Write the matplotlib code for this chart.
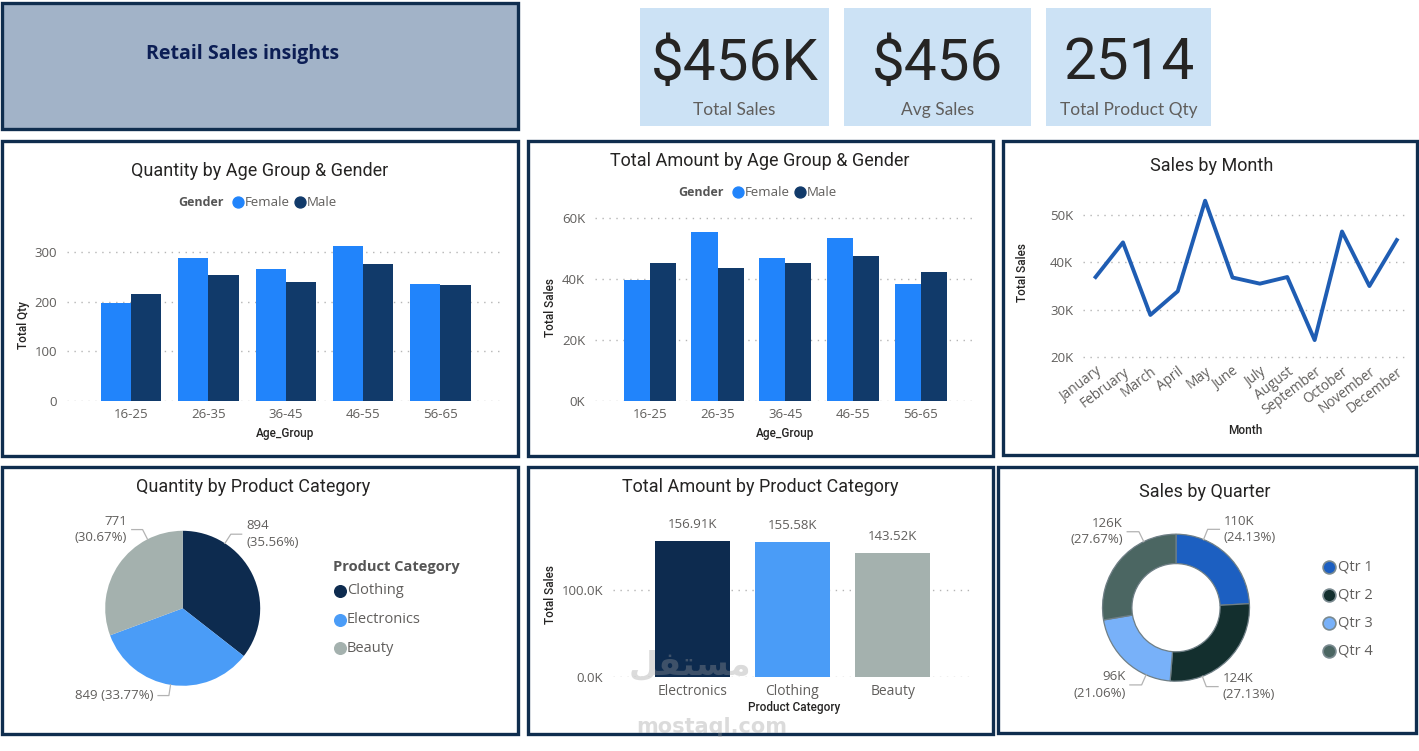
import numpy as np
import matplotlib
matplotlib.use("Agg")
import matplotlib.pyplot as plt
from matplotlib.patches import Rectangle
from matplotlib.ticker import FuncFormatter

plt.rcParams['font.family'] = ['Open Sans', 'DejaVu Sans']

# ---- data ----
kpi_values = ['$456K', '$456', '2514']
kpi_labels = ['Total Sales', 'Avg Sales', 'Total Product Qty']

age_groups = ['16-25', '26-35', '36-45', '46-55', '56-65']
genders = ['Female', 'Male']
qty_female = [197, 287, 266, 312, 235]
qty_male = [215, 253, 240, 275, 234]
amount_female = [39500, 55200, 46800, 53400, 38200]
amount_male = [45200, 43400, 45300, 47500, 42200]

months = ['January', 'February', 'March', 'April', 'May', 'June', 'July',
          'August', 'September', 'October', 'November', 'December']
monthly_sales = [36900, 44200, 28900, 33900, 53000, 36800, 35500, 36900,
                 23600, 46500, 35000, 44700]

pie_categories = ['Clothing', 'Electronics', 'Beauty']
pie_qty = [894, 849, 771]

bar_categories = ['Electronics', 'Clothing', 'Beauty']
bar_amount = [156910, 155580, 143520]

quarters = ['Qtr 1', 'Qtr 2', 'Qtr 3', 'Qtr 4']
quarter_sales = [110030, 123710, 96030, 126170]

# ---- colours / layout ----
W, H = 1419, 751
NAVY = '#0f2d4e'
FEMALE_C = '#2184fb'
MALE_C = '#113a6a'
pie_colors = ['#0d2b4f', '#4a9cf7', '#a4b1ae']
bar_colors = ['#0d2b4f', '#4a9cf7', '#a4b1ae']
quarter_colors = ['#1c5fc1', '#132f2e', '#78b1f9', '#4b6662']
GREY_TXT = '#605e5c'
DARK_TXT = '#252423'

fig = plt.figure(figsize=(W / 100, H / 100), dpi=100)
bg = fig.add_axes([0, 0, 1, 1], zorder=0)
bg.set_xlim(0, W)
bg.set_ylim(H, 0)
bg.axis('off')


def px_axes(left, top, right, bottom):
    return fig.add_axes([left / W, 1 - bottom / H, (right - left) / W, (bottom - top) / H], zorder=2)


def style(ax):
    for s in ax.spines.values():
        s.set_visible(False)
    ax.tick_params(length=0, labelsize=9.5, labelcolor=GREY_TXT)
    ax.tick_params(axis='y', pad=7)
    ax.tick_params(axis='x', pad=5)
    ax.yaxis.grid(True, linestyle=(0, (1, 4)), color='#b5b5b5', lw=1)
    ax.set_axisbelow(True)
    ax.patch.set_alpha(0)


def title(x, y, s):
    bg.text(x, y, s, ha='center', va='center', fontsize=13, color=DARK_TXT, family='Roboto')


def axis_title(x, y, s, rot=0):
    bg.text(x, y, s, ha='center', va='center', fontsize=8.5, color=DARK_TXT,
            family='Roboto', fontweight='medium', rotation=rot)


def gender_legend(x0, y):
    bg.text(x0, y, 'Gender', ha='left', va='center', fontsize=9, fontweight='bold', color='#555555')
    for dx, name, c in zip([60, 122], genders, [FEMALE_C, MALE_C]):
        bg.scatter(x0 + dx, y, s=62, color=c, zorder=3)
        bg.text(x0 + dx + 7, y, name, ha='left', va='center', fontsize=9.5, color=GREY_TXT)


def leader_labels(ax, texts, angles, r0=1.0, r1=1.14, hlen=0.14):
    for t, ang in zip(texts, angles):
        a = np.deg2rad(ang)
        side = 1 if np.cos(a) > 0 else -1
        x0, y0 = r0 * np.cos(a), r0 * np.sin(a)
        x1, y1 = r1 * np.cos(a), r1 * np.sin(a)
        x2 = x1 + side * hlen
        ax.plot([x0, x1, x2], [y0, y1, y1], color='#b3b3b3', lw=0.9, clip_on=False)
        ax.text(x2 + side * 0.06, y1, t, ha='left' if side > 0 else 'right', va='center',
                fontsize=9.5, color=GREY_TXT, linespacing=1.35, clip_on=False)


# ---- panels ----
bg.add_patch(Rectangle((2, 3), 516, 126, facecolor='#a2b3c8', edgecolor=NAVY, lw=2.4))
bg.text(243, 54, 'Retail Sales insights', ha='center', va='center', fontsize=14,
        fontweight='bold', color='#0c1e55', family='Open Sans')

kpi_boxes = [(640, 8, 829, 126), (844, 8, 1031, 126), (1046, 8, 1211, 126)]
for (x0, y0, x1, y1), v, lab in zip(kpi_boxes, kpi_values, kpi_labels):
    bg.add_patch(Rectangle((x0, y0), x1 - x0, y1 - y0, facecolor='#cce2f5', edgecolor='none'))
    bg.text((x0 + x1) / 2, 64, v, ha='center', va='center', fontsize=42,
            color='#252423', family='Roboto')
    bg.text((x0 + x1) / 2, 110, lab, ha='center', va='center', fontsize=12.5,
            color=GREY_TXT, family='Lato')

panels = [(2, 141, 518, 456), (528, 141, 993, 456), (1003, 141, 1417, 455),
          (2, 467, 518, 734), (528, 467, 993, 734), (998, 467, 1416, 733)]
for x0, y0, x1, y1 in panels:
    bg.add_patch(Rectangle((x0, y0), x1 - x0, y1 - y0, facecolor='white', edgecolor=NAVY, lw=2.4))

x = np.arange(len(age_groups))

# ---- Quantity by Age Group & Gender ----
ax1 = px_axes(67, 238, 500, 401)
style(ax1)
w = 0.39
ax1.bar(x - w / 2, qty_female, w, color=FEMALE_C)
ax1.bar(x + w / 2, qty_male, w, color=MALE_C)
ax1.set_xlim(-0.83, 4.77)
ax1.set_ylim(0, 328)
ax1.set_yticks([0, 100, 200, 300])
ax1.set_xticks(x, age_groups)
title(260, 171, 'Quantity by Age Group & Gender')
gender_legend(178, 202)
axis_title(23, 325, 'Total Qty', rot=90)
axis_title(285, 433, 'Age_Group')

# ---- Total Amount by Age Group & Gender ----
ax2 = px_axes(595, 210, 972, 401)
style(ax2)
w = 0.385
ax2.bar(x - w / 2, amount_female, w, color=FEMALE_C)
ax2.bar(x + w / 2, amount_male, w, color=MALE_C)
ax2.set_xlim(-0.81, 4.76)
ax2.set_ylim(0, 62500)
ax2.set_yticks([0, 20000, 40000, 60000])
ax2.yaxis.set_major_formatter(FuncFormatter(lambda v, p: f'{v / 1000:.0f}K'))
ax2.set_xticks(x, age_groups)
title(760, 161, 'Total Amount by Age Group & Gender')
gender_legend(678, 192)
axis_title(550, 308, 'Total Sales', rot=90)
axis_title(785, 433, 'Age_Group')

# ---- Sales by Month ----
ax3 = px_axes(1083, 195, 1405, 360)
style(ax3)
ax3.plot(np.arange(len(months)), monthly_sales, color='#1f5db3', lw=2.8)
ax3.set_xlim(-0.46, 11.3)
ax3.set_ylim(19400, 54200)
ax3.set_yticks([20000, 30000, 40000, 50000])
ax3.yaxis.set_major_formatter(FuncFormatter(lambda v, p: f'{v / 1000:.0f}K'))
ax3.set_xticks(np.arange(len(months)), months, rotation=37, ha='right', rotation_mode='anchor')
ax3.tick_params(axis='x', pad=3, labelsize=9.8)
title(1212, 166, 'Sales by Month')
axis_title(1022, 273, 'Total Sales', rot=90)
axis_title(1245, 431, 'Month')

# ---- Quantity by Product Category (pie) ----
R = 77.5
ax4 = px_axes(182.7 - 110, 608.3 - 110, 182.7 + 110, 608.3 + 110)
ax4.pie(pie_qty, colors=pie_colors, startangle=90, counterclock=False, radius=1)
ax4.set_xlim(-110 / R, 110 / R)
ax4.set_ylim(-110 / R, 110 / R)
ax4.set_aspect('equal')
ax4.axis('off')
qtot = sum(pie_qty)
pie_texts = [f'{pie_qty[0]}\n({pie_qty[0] / qtot * 100:.2f}%)',
             f'{pie_qty[1]} ({pie_qty[1] / qtot * 100:.2f}%)',
             f'{pie_qty[2]}\n({pie_qty[2] / qtot * 100:.2f}%)']
leader_labels(ax4, pie_texts, [57, -99, 117])
title(253, 487, 'Quantity by Product Category')
bg.text(333, 567, 'Product Category', ha='left', va='center', fontsize=10.5,
        fontweight='bold', color='#555555')
for i, (name, c) in enumerate(zip(pie_categories, pie_colors)):
    yy = 591 + i * 28.5
    bg.scatter(340, yy, s=70, color=c, zorder=3)
    bg.text(347, yy, name, ha='left', va='center', fontsize=10.5, color=GREY_TXT)

# ---- Total Amount by Product Category ----
ax5 = px_axes(613, 515, 973, 677)
style(ax5)
xb = np.arange(len(bar_categories))
bars = ax5.bar(xb, bar_amount, 0.75, color=bar_colors)
ax5.bar_label(bars, labels=[f'{v / 1000:.2f}K' for v in bar_amount], padding=7,
              fontsize=9.5, color=GREY_TXT)
ax5.set_xlim(-0.79, 2.8)
ax5.set_ylim(0, 187000)
ax5.set_yticks([0, 100000])
ax5.yaxis.set_major_formatter(FuncFormatter(lambda v, p: f'{v / 1000:.1f}K'))
ax5.set_xticks(xb, bar_categories)
ax5.tick_params(axis='x', labelsize=10)
title(760, 487, 'Total Amount by Product Category')
axis_title(550, 595, 'Total Sales', rot=90)
axis_title(794, 708, 'Product Category')

# ---- Sales by Quarter (donut) ----
R2 = 73.5
ax6 = px_axes(1176 - 110, 607.7 - 110, 1176 + 110, 607.7 + 110)
ax6.pie(quarter_sales, colors=quarter_colors, startangle=90, counterclock=False, radius=1,
        wedgeprops=dict(width=0.4, edgecolor='#6f7f86', linewidth=0.9))
ax6.set_xlim(-110 / R2, 110 / R2)
ax6.set_ylim(-110 / R2, 110 / R2)
ax6.set_aspect('equal')
ax6.axis('off')
stot = sum(quarter_sales)
q_texts = [f'{v / 1000:.0f}K\n({v / stot * 100:.2f}%)' for v in quarter_sales]
leader_labels(ax6, q_texts, [68, -69, -114, 116], r1=1.15, hlen=0.16)
title(1205, 492, 'Sales by Quarter')
for i, (name, c) in enumerate(zip(quarters, quarter_colors)):
    yy = 567 + i * 28
    bg.scatter(1329, yy, s=85, color=c, edgecolor='#7a8a90', linewidth=1.2, zorder=3)
    bg.text(1338, yy, name, ha='left', va='center', fontsize=10.5, color=GREY_TXT)

# ---- watermark ----
wm = fig.add_axes([0, 0, 1, 1], zorder=5)
wm.set_xlim(0, W)
wm.set_ylim(H, 0)
wm.axis('off')
wm.text(690, 665, '\uFEDE\uFED4\uFE98\uFEB4\uFEE3', ha='center', va='center', fontsize=24,
        fontweight='bold', color='#9a9a9a', alpha=0.35, family='DejaVu Sans')
wm.text(712, 727, 'mostaql.com', ha='center', va='center', fontsize=15,
        fontweight='bold', color='#9a9a9a', alpha=0.35, family='DejaVu Sans')

fig.savefig('out.png', dpi=100)
